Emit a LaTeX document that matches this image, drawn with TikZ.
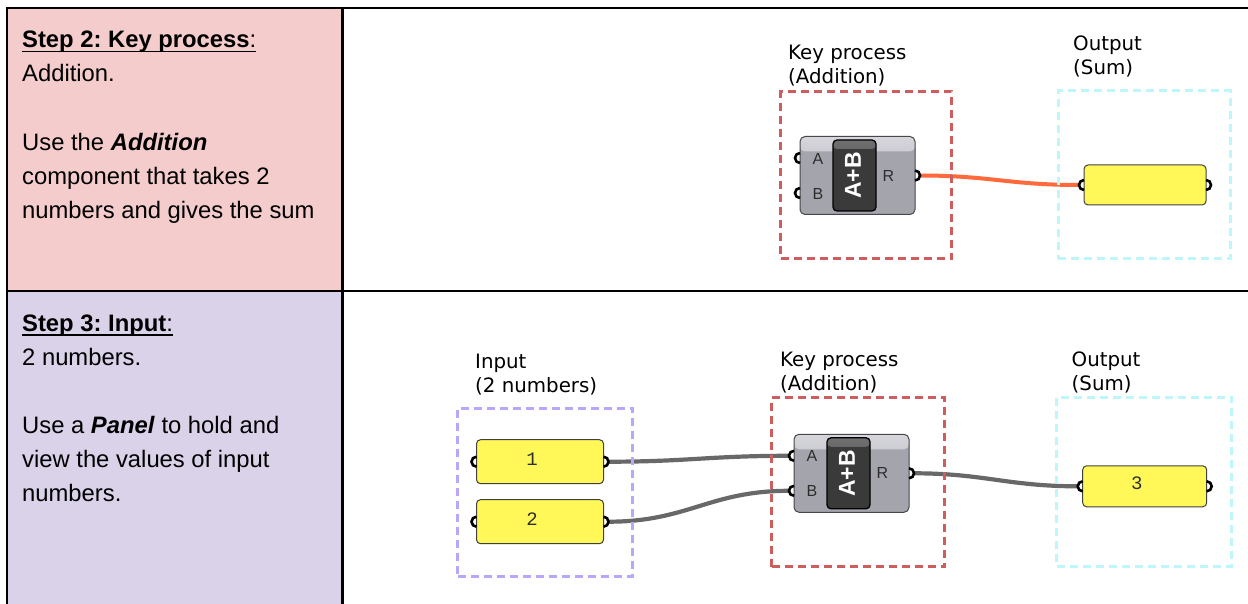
\documentclass[tikz,border=0pt]{standalone}
\usepackage{fontspec}
\setmainfont{Liberation Sans}
\newfontfamily\tagfont{DejaVu Sans}
\newfontfamily\numfont{Liberation Mono}

\definecolor{pinkcell}{RGB}{244,204,204}
\definecolor{lavcell}{RGB}{217,210,233}
\definecolor{boxred}{RGB}{206,94,94}
\definecolor{boxpurple}{RGB}{186,166,250}
\definecolor{boxcyan}{RGB}{190,246,250}
\definecolor{panelyellow}{RGB}{255,248,88}
\definecolor{wiregray}{RGB}{104,104,104}
\definecolor{wireorange}{RGB}{255,106,60}
\definecolor{compgray}{RGB}{164,164,173}
\definecolor{complight}{RGB}{214,214,220}
\definecolor{coredark}{RGB}{58,58,58}
\definecolor{corelight}{RGB}{112,112,112}
\definecolor{inktext}{RGB}{45,45,45}

% underline at a fixed depth, crossing the descenders
\newsavebox\ulinebox
\newcommand\ulined[1]{\sbox\ulinebox{#1}\rlap{\rule[-4.3pt]{\wd\ulinebox}{1.6pt}}\usebox\ulinebox}

\pgfdeclarelayer{cells}
\pgfdeclarelayer{wires}
\pgfsetlayers{cells,wires,main}

\tikzset{
  tablerule/.style={line width=2.2pt, black},
  celltext/.style={anchor=base west, inner sep=0pt, font=\frenchspacing\fontsize{23.8}{34}\selectfont},
  grouplabel/.style={anchor=base west, inner sep=0pt, font=\tagfont\fontsize{19.8}{24}\selectfont},
  groupbox/.style={draw, line width=3pt, dash pattern=on 8pt off 5pt, inner sep=0pt},
  compbody/.style={rectangle, rounded corners=5pt, draw=black!72, line width=1pt,
    fill=compgray, minimum width=115pt, minimum height=78pt, inner sep=0pt,
    path picture={\shade[top color=complight, bottom color=compgray]
      (path picture bounding box.north west) rectangle ([yshift=-15pt]path picture bounding box.north east);}},
  compcore/.style={rectangle, rounded corners=4pt, draw=black, line width=1.3pt,
    fill=coredark, minimum width=43pt, minimum height=71pt, inner sep=0pt,
    path picture={\shade[top color=corelight, bottom color=coredark]
      (path picture bounding box.north west) rectangle ([yshift=-9pt]path picture bounding box.north east);}},
  corelabel/.style={inner sep=0pt, text=white, rotate=90, font=\fontsize{23}{23}\selectfont\bfseries},
  portlabel/.style={inner sep=0pt, text=inktext, font=\fontsize{16}{16}\selectfont},
  panel/.style={rectangle, rounded corners=4pt, draw=black!75, line width=1pt,
    fill=panelyellow, inner sep=0pt},
  panelnum/.style={inner sep=0pt, text=inktext, font=\numfont\fontsize{19}{19}\selectfont},
  grip/.style={line width=2.6pt, black},
  wire/.style={line width=4.2pt, wiregray},
  hotwire/.style={line width=4pt, wireorange},
}

% grips: a C-shaped socket on the left or right edge of a component
\newcommand\ingrip[1]{\draw[grip] ([yshift=5pt]#1) arc[start angle=90, end angle=270, radius=5pt];}
\newcommand\outgrip[1]{\draw[grip] ([yshift=5pt]#1) arc[start angle=90, end angle=-90, radius=5pt];}

% Addition component: name, centre x, centre y
\newcommand\addcomp[3]{%
  \begin{scope}[shift={(#2,#3)}]
    \node[compbody] (#1) at (0,0) {};
    \node[compcore] (#1core) at (-3,0) {};
    \node[corelabel] (#1op) at (-4.5,0) {A+B};
    \node[portlabel] (#1la) at (-39.5,-17) {A};
    \node[portlabel] (#1lb) at (-39.5,18) {B};
    \node[portlabel] (#1lr) at (31,0) {R};
    \coordinate (#1A) at (-57.5,-17.5);
    \coordinate (#1B) at (-57.5,17.5);
    \coordinate (#1R) at (57.5,0);
    \ingrip{#1A}
    \ingrip{#1B}
    \outgrip{#1R}
    \coordinate (#1Aend) at (-62.5,-17.5);
    \coordinate (#1Bend) at (-62.5,17.5);
    \coordinate (#1Rend) at (62.5,0);
  \end{scope}}

% Panel: name, centre x, centre y, width, height
\newcommand\ghpanel[5]{%
  \begin{scope}[shift={(#2,#3)}]
    \node[panel, minimum width=#4pt, minimum height=#5pt] (#1) at (0,0) {};
    \coordinate (#1in) at (-#4/2,0);
    \coordinate (#1out) at (#4/2,0);
    \ingrip{#1in}
    \outgrip{#1out}
    \coordinate (#1inend) at (-#4/2-5,0);
    \coordinate (#1outend) at (#4/2+5,0);
  \end{scope}}

\begin{document}
\begin{tikzpicture}[x=1pt, y=-1pt]
\useasboundingbox (0,0) rectangle (1248,604);

% ---- table ----
\begin{pgfonlayer}{cells}
  \fill[pinkcell] (6.8,8.3) rectangle (342.5,291.3);
  \fill[lavcell] (6.8,291.3) rectangle (342.5,604);
\end{pgfonlayer}
\draw[tablerule] (5.7,8.3) -- (1248,8.3);
\draw[tablerule] (6.8,8.3) -- (6.8,604);
\draw[tablerule] (342.5,8.3) -- (342.5,604);
\draw[tablerule] (6.8,291.3) -- (1248,291.3);

% ---- left column text ----
\node[celltext] (s2head) at (22,48) {\ulined{\textbf{Step 2: Key process}:}};
\node[celltext] (s2l1) at (22,82) {Addition.};
\node[celltext] (s2l2) at (22,150.5) {Use the \textbf{\itshape Addition}};
\node[celltext] (s2l3) at (22,184.5) {component that takes 2};
\node[celltext] (s2l4) at (22,218.5) {numbers and gives the sum};

\node[celltext] (s3head) at (22,331.5) {\ulined{\textbf{Step 3: Input}:}};
\node[celltext] (s3l1) at (22,365.5) {2 numbers.};
\node[celltext] (s3l2) at (22,433.5) {Use a \textbf{\itshape Panel} to hold and};
\node[celltext] (s3l3) at (22,467.5) {view the values of input};
\node[celltext] (s3l4) at (22,501.5) {numbers.};

% ---- step 2 definition ----
\node[grouplabel] (kp1a) at (788,60) {Key process};
\node[grouplabel] (kp1b) at (788,83.5) {(Addition)};
\node[grouplabel] (out1a) at (1073,51) {Output};
\node[grouplabel] (out1b) at (1073,75) {(Sum)};

\node[groupbox, draw=boxred, minimum width=171pt, minimum height=167pt] (kpbox1) at (866,175.5) {};
\node[groupbox, draw=boxcyan, minimum width=172pt, minimum height=168pt] (outbox1) at (1144,175) {};

\addcomp{addtop}{857.5}{175.5}
\ghpanel{sumtop}{1145}{185}{122}{40}

\begin{pgfonlayer}{wires}
  \draw[hotwire] (addtopRend) .. controls +(70,0) and +(-70,0) .. (sumtopinend);
\end{pgfonlayer}

% ---- step 3 definition ----
\node[grouplabel] (in2a) at (475,368) {Input};
\node[grouplabel] (in2b) at (475,392) {(2 numbers)};
\node[grouplabel] (kp2a) at (780,366) {Key process};
\node[grouplabel] (kp2b) at (780,390) {(Addition)};
\node[grouplabel] (out2a) at (1071.5,366) {Output};
\node[grouplabel] (out2b) at (1071.5,390) {(Sum)};

\node[groupbox, draw=boxpurple, minimum width=175pt, minimum height=168pt] (inbox2) at (545,492) {};
\node[groupbox, draw=boxred, minimum width=173pt, minimum height=169pt] (kpbox2) at (858.3,482) {};
\node[groupbox, draw=boxcyan, minimum width=175pt, minimum height=169pt] (outbox2) at (1144,481.7) {};

\ghpanel{numone}{540}{461.7}{127}{44}
\ghpanel{numtwo}{540}{521.7}{127}{44}
\ghpanel{sumbot}{1144.7}{486.3}{124}{41}
\node[panelnum] (numonetxt) at (532,459.5) {1};
\node[panelnum] (numtwotxt) at (532,519.5) {2};
\node[panelnum] (sumbottxt) at (1136.7,483.5) {3};

\addcomp{addbot}{851.5}{473.3}

\begin{pgfonlayer}{wires}
  \draw[wire] (numoneoutend) .. controls +(80,0) and +(-80,0) .. (addbotAend);
  \draw[wire] (numtwooutend) .. controls +(80,0) and +(-80,0) .. (addbotBend);
  \draw[wire] (addbotRend) .. controls +(70,0) and +(-70,0) .. (sumbotinend);
\end{pgfonlayer}

\end{tikzpicture}
\end{document}
